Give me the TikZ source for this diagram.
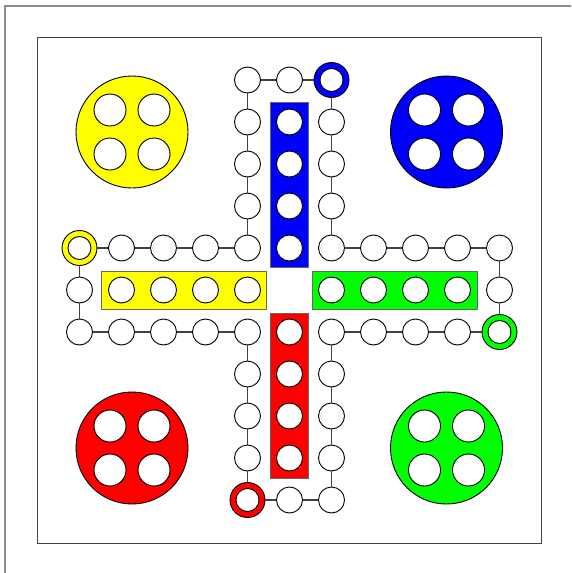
\documentclass[tikz,border=0pt]{standalone}
\usetikzlibrary{backgrounds}
\definecolor{ly}{RGB}{255,255,0}
\definecolor{lb}{RGB}{0,0,255}
\definecolor{lr}{RGB}{255,0,0}
\definecolor{lg}{RGB}{0,255,0}
\tikzset{
  field/.style={circle,draw=black,fill=white,line width=0.9pt,minimum size=26pt,inner sep=0pt},
  startring/.style={circle,draw=black,fill=#1,line width=0.9pt,minimum size=35pt,inner sep=0pt},
  starthole/.style={circle,draw=black,fill=white,line width=0.9pt,minimum size=23pt,inner sep=0pt},
  basedisc/.style={circle,draw=black,fill=#1,line width=0.9pt,minimum size=112pt,inner sep=0pt},
  basehole/.style={circle,draw=black,fill=white,line width=0.9pt,minimum size=32pt,inner sep=0pt},
  homebar/.style={rectangle,draw=black!60,fill=#1,line width=0.8pt,inner sep=0pt},
  link/.style={draw=black!75,line width=1.3pt},
}
\begin{document}
\begin{tikzpicture}[x=1pt,y=-1pt]
\useasboundingbox (0,0) rectangle (571,573);
\fill[white] (0,0) rectangle (571,573);
\draw[black!45,line width=1.3pt] (5,573) -- (5,6) -- (571,6);
\draw[black!75,line width=0.9pt] (37,37) rectangle (541,543);
% home bars
\node[homebar=lb,minimum width=38pt,minimum height=165pt] (hb) at (289.5,184.5) {};
\node[homebar=lr,minimum width=38pt,minimum height=165pt] (hr) at (289.5,395.5) {};
\node[homebar=ly,minimum width=165pt,minimum height=38pt] (hy) at (184,290) {};
\node[homebar=lg,minimum width=165pt,minimum height=38pt] (hg) at (395,290) {};
\foreach \k in {1,...,4}{
  \node[field] (hb\k) at (289.5,{290-42*\k}) {};
  \node[field] (hr\k) at (289.5,{290+42*\k}) {};
  \node[field] (hy\k) at ({289.5-42*\k},290) {};
  \node[field] (hg\k) at ({289.5+42*\k},290) {};
}
% track
\foreach \n/\i/\j in {1/-1/-1,2/-1/-2,3/-1/-3,4/-1/-4,5/-1/-5,6/0/-5,7/1/-5,8/1/-4,9/1/-3,10/1/-2,
  11/1/-1,12/2/-1,13/3/-1,14/4/-1,15/5/-1,16/5/0,17/5/1,18/4/1,19/3/1,20/2/1,
  21/1/1,22/1/2,23/1/3,24/1/4,25/1/5,26/0/5,27/-1/5,28/-1/4,29/-1/3,30/-1/2,
  31/-1/1,32/-2/1,33/-3/1,34/-4/1,35/-5/1,36/-5/0,37/-5/-1,38/-4/-1,39/-3/-1,40/-2/-1}{
  \node[field] (c\n) at ({289.5+42*\i},{290+42*\j}) {};
}
% start fields
\node[startring=lb] (c7) at ({289.5+42},{290-210}) {};
\node[starthole] (s7) at (c7) {};
\node[startring=lg] (c17) at ({289.5+210},{290+42}) {};
\node[starthole] (s17) at (c17) {};
\node[startring=lr] (c27) at ({289.5-42},{290+210}) {};
\node[starthole] (s27) at (c27) {};
\node[startring=ly] (c37) at ({289.5-210},{290-42}) {};
\node[starthole] (s37) at (c37) {};
% links
\foreach \a [evaluate=\a as \b using {int(mod(\a,40)+1)}] in {1,...,40}{
  \draw[link] (c\a) -- (c\b);
}
% bases
\node[basedisc=ly] (by) at (132,132) {};
\node[basedisc=lb] (bb) at (446.5,132) {};
\node[basedisc=lr] (br) at (132,448) {};
\node[basedisc=lg] (bg) at (446.5,448) {};
\foreach \b in {by,bb,br,bg}{
  \node[basehole] (\b1) at ([shift={(-22pt,22pt)}]\b.center) {};
  \node[basehole] (\b2) at ([shift={(22pt,22pt)}]\b.center) {};
  \node[basehole] (\b3) at ([shift={(-22pt,-22pt)}]\b.center) {};
  \node[basehole] (\b4) at ([shift={(22pt,-22pt)}]\b.center) {};
}
\end{tikzpicture}
\end{document}
